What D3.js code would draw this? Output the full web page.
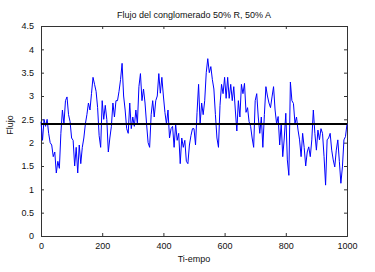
<!DOCTYPE html>
<html>
<head>
<meta charset="utf-8">
<script src="https://cdn.jsdelivr.net/npm/d3@7"></script>
<style>
  body { margin: 0; background: #fff; }
  svg text { font-family: "Liberation Sans", Arial, sans-serif; fill: #111; }
  .axis path, .axis line { stroke: #333; }
</style>
</head>
<body>
<div id="chart"></div>
<script>
var tiempoPaso = 5;
var flujo = [
  2.45, 2.05, 2.5, 2.35, 2.5, 2.2, 2.0, 1.95, 1.7, 1.8,
  1.35, 1.6, 1.45, 2.2, 2.7, 2.4, 2.9, 2.98, 2.6, 2.45,
  2.1, 2.05, 1.5, 1.9, 1.35, 1.95, 1.55, 1.9, 2.1, 2.4,
  2.6, 2.85, 2.7, 3.05, 3.4, 3.25, 3.1, 2.75, 2.15, 1.9,
  2.9, 2.5, 2.8, 2.5, 1.8, 2.1, 2.35, 2.85, 2.55, 2.9,
  2.9, 3.1, 3.35, 3.7, 3.0, 2.7, 2.3, 2.2, 2.85, 2.3,
  2.55, 2.35, 2.7, 2.4, 3.2, 3.48, 2.9, 3.15, 2.85, 2.4,
  2.0, 1.9, 2.6, 2.9, 2.55, 2.9, 3.0, 3.48, 3.06, 3.4,
  3.0, 2.65, 2.4, 2.7, 2.1, 2.3, 2.35, 1.9, 2.4, 2.05,
  2.2, 1.55, 2.1, 1.9, 2.05, 1.6, 1.55, 1.95, 2.15, 2.3,
  2.3, 1.95, 2.65, 3.25, 2.4, 2.85, 2.6, 2.9, 3.5, 3.8,
  3.5, 3.63, 3.35, 3.15, 2.6, 2.1, 1.9, 2.8, 3.25, 3.05,
  3.4, 2.95, 3.4, 2.95, 3.25, 2.9, 3.2, 2.7, 2.25, 2.9,
  2.55, 3.25, 3.05, 3.27, 2.65, 2.75, 2.45, 2.35, 2.1, 1.9,
  2.9, 3.05, 2.55, 2.2, 2.55, 1.9, 2.6, 3.2, 3.0, 2.85,
  2.75, 2.98, 3.2, 2.7, 2.4, 2.56, 1.95, 2.41, 1.7, 2.1,
  2.63, 1.63, 1.3, 3.3, 2.9, 2.84, 2.41, 2.55, 2.27, 2.06,
  1.7, 2.2, 1.9, 1.5, 1.8, 1.91, 1.7, 2.06, 2.7, 2.2,
  1.84, 2.27, 2.06, 2.3, 2.2, 1.7, 1.09, 2.06, 2.1, 2.2,
  1.84, 1.63, 1.48, 1.84, 2.06, 1.6, 1.13, 1.48, 2.06, 2.13,
  2.4
];
var flujoMedio = 2.4;
var xTicks = [0, 200, 400, 600, 800, 1000];
var yTicks = [0, 0.5, 1, 1.5, 2, 2.5, 3, 3.5, 4, 4.5];

var width = 375, height = 272;
var margin = {top: 26, right: 28, bottom: 36, left: 41};
var w = width - margin.left - margin.right;
var h = height - margin.top - margin.bottom;

var svg = d3.select("#chart").append("svg")
    .attr("width", width)
    .attr("height", height);

var g = svg.append("g")
    .attr("transform", "translate(" + margin.left + "," + margin.top + ")");

var x = d3.scaleLinear().domain([0, 1000]).range([0, w]);
var y = d3.scaleLinear().domain([0, 4.5]).range([h, 0]);

//Axes with inward ticks, box on all four sides
g.append("g").attr("class", "axis")
    .attr("transform", "translate(0," + h + ")")
    .call(d3.axisBottom(x).tickValues(xTicks).tickSize(-3).tickPadding(7).tickFormat(d3.format("d")))
    .style("font-size", "9px");
g.append("g").attr("class", "axis")
    .call(d3.axisTop(x).tickValues(xTicks).tickSize(-3).tickFormat(""));
g.append("g").attr("class", "axis")
    .call(d3.axisLeft(y).tickValues(yTicks).tickSize(-3).tickPadding(7).tickFormat(d3.format("")))
    .style("font-size", "9px");
g.append("g").attr("class", "axis")
    .attr("transform", "translate(" + w + ",0)")
    .call(d3.axisRight(y).tickValues(yTicks).tickSize(-3).tickFormat(""));

g.selectAll(".axis text").style("fill", "#111").style("font-family", "'Liberation Sans', Arial, sans-serif");

//Blue flux line
var line = d3.line()
    .x(function (d, i) { return x(i * tiempoPaso); })
    .y(function (d) { return y(d); });

g.append("path")
    .datum(flujo)
    .attr("d", line)
    .attr("fill", "none")
    .attr("stroke", "#0000ff")
    .attr("stroke-width", 1);

//Mean line
g.append("line")
    .attr("x1", x(0)).attr("x2", x(1000))
    .attr("y1", y(flujoMedio)).attr("y2", y(flujoMedio))
    .attr("stroke", "#000")
    .attr("stroke-width", 2);

//Labels
svg.append("text")
    .attr("x", margin.left + w / 2)
    .attr("y", 18)
    .attr("text-anchor", "middle")
    .style("font-size", "9px")
    .text("Flujo del conglomerado 50% R, 50% A");

svg.append("text")
    .attr("x", margin.left + w / 2)
    .attr("y", 262)
    .attr("text-anchor", "middle")
    .style("font-size", "9px")
    .text("Ti-empo");

svg.append("text")
    .attr("transform", "translate(13," + 125 + ") rotate(-90)")
    .attr("text-anchor", "middle")
    .style("font-size", "9px")
    .text("Flujo");
</script>
</body>
</html>
